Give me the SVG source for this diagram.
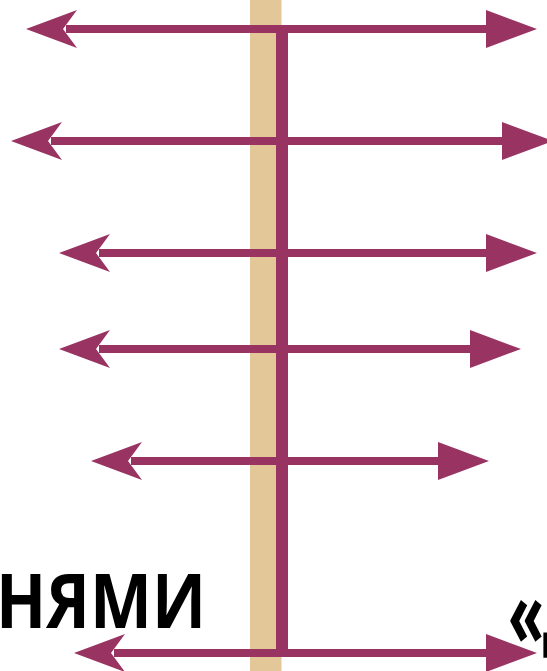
<svg xmlns="http://www.w3.org/2000/svg" width="547" height="671" viewBox="0 0 547 671">
  <style>
    .axis { stroke: #993362; stroke-width: 12; fill: none; }
    .arrow { stroke: #993362; stroke-width: 8; fill: none; marker-start: url(#headL); marker-end: url(#headR); }
    .head { fill: #993362; }
    .label { font-family: "Open Sans", "Noto Sans", "DejaVu Sans", sans-serif; font-weight: 700; font-size: 76px; fill: #000000; }
  </style>
  <defs>
    <marker id="headL" markerUnits="userSpaceOnUse" viewBox="-37 -19 51 38" refX="3" refY="0" markerWidth="51" markerHeight="38" orient="auto" overflow="visible">
      <path class="head" d="M-37,0 L14,-19 L0,0 L14,19 Z"/>
    </marker>
    <marker id="headR" markerUnits="userSpaceOnUse" viewBox="0 -19 51 38" refX="3" refY="0" markerWidth="51" markerHeight="38" orient="auto" overflow="visible">
      <path class="head" d="M0,-19 L51,0 L0,19 Z"/>
    </marker>
  </defs>
  <rect width="547" height="671" fill="#ffffff"/>
  <g id="post">
    <rect x="250" y="0" width="31.5" height="671" fill="#E3C799"/>
  </g>
  <g id="text-left">
    <text class="label" x="-4" y="628" textLength="210" lengthAdjust="spacingAndGlyphs">НЯМИ</text>
  </g>
  <g id="text-right">
    <text class="label" x="508" y="646" style="font-size:92px" textLength="36" lengthAdjust="spacingAndGlyphs">«</text>
    <text class="label" x="543" y="642">Д</text>
  </g>
  <g id="connectors">
    <line class="axis" x1="282" y1="29" x2="282" y2="653"/>
    <line class="arrow" x1="66" y1="29" x2="489" y2="29"/>
    <line class="arrow" x1="51" y1="141" x2="505" y2="141"/>
    <line class="arrow" x1="99" y1="253" x2="489" y2="253"/>
    <line class="arrow" x1="99" y1="349" x2="473" y2="349"/>
    <line class="arrow" x1="131" y1="461" x2="441" y2="461"/>
    <line class="arrow" x1="114" y1="653" x2="489" y2="653"/>
  </g>
</svg>
